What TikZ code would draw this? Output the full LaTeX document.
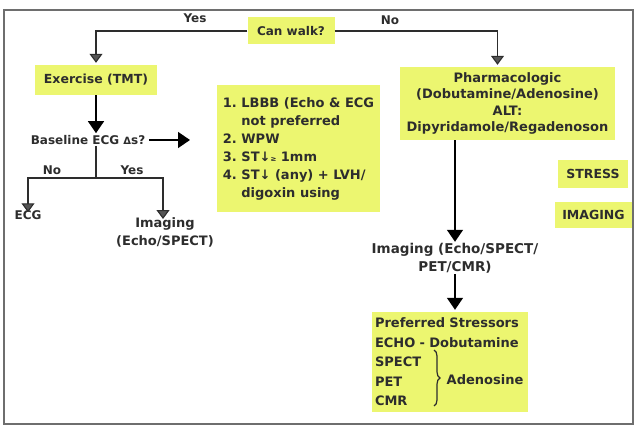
\documentclass[tikz,border=0pt]{standalone}
\usepackage{fontspec}
\setmainfont{DejaVu Sans}
\usetikzlibrary{arrows.meta,decorations.pathreplacing}
\definecolor{hilite}{RGB}{236,246,112}
\definecolor{ink}{RGB}{45,45,45}
\definecolor{frame}{RGB}{110,110,110}
\definecolor{tipgray}{RGB}{85,85,85}
\tikzset{
  txt/.style={text=ink, align=center, inner sep=1pt,
    font=\bfseries\fontsize{12.5}{17}\selectfont},
  box/.style={txt, fill=hilite, inner sep=3pt},
  branch/.style={draw=ink, line width=1.1pt,
    -{Triangle[width=13pt,length=9pt,fill=tipgray]}},
  down/.style={draw=black, line width=1.5pt,
    -{Triangle[width=16pt,length=12pt]}},
  plainline/.style={draw=ink, line width=1.1pt},
}
\begin{document}
\begin{tikzpicture}[x=1pt,y=-1pt]
  \useasboundingbox (0,0) rectangle (636,427);
  % outer frame
  \draw[frame, line width=1.2pt] (4,10) rectangle (633,424);

  % top decision
  \node[box, minimum width=87pt, minimum height=27pt,
        font=\bfseries\fontsize{12}{15}\selectfont] (walk) at (291,31) {Can walk?};
  \node[txt, font=\bfseries\fontsize{12}{15}\selectfont] (yes) at (195,18) {Yes};
  \node[txt, font=\bfseries\fontsize{12}{15}\selectfont] (no) at (390,20) {No};

  % exercise branch
  \node[box, minimum width=122pt, minimum height=30pt] (exercise) at (96,80) {Exercise (TMT)};
  \node[txt, font=\bfseries\fontsize{12}{15}\selectfont] (baseline) at (88,140) {Baseline ECG {\fontsize{10}{10}\selectfont Δ}s?};
  \coordinate (listarrow) at (190,140);
  \coordinate (split) at (96,178);
  \node[txt, font=\bfseries\fontsize{12}{15}\selectfont] (lno) at (52,170) {No};
  \node[txt, font=\bfseries\fontsize{12}{15}\selectfont] (lyes) at (132,170) {Yes};
  \node[txt, font=\bfseries\fontsize{12}{15}\selectfont] (ecg) at (28,215) {ECG};
  \node[txt, font=\bfseries\fontsize{13}{18}\selectfont] (imgA) at (165,232) {Imaging\\(Echo/SPECT)};

  % indications list
  \node[box, minimum width=163pt, minimum height=127pt, align=left,
        font=\bfseries\fontsize{13}{18}\selectfont] (list) at (298.5,148.5)
    {1.\ LBBB (Echo \& ECG\\
     \phantom{1.\ }not preferred\\
     2.\ WPW\\
     3.\ ST↓{\fontsize{7}{7}\selectfont ≥} 1mm\\
     4.\ ST↓ (any) + LVH/\\
     \phantom{1.\ }digoxin using};

  % pharmacologic branch
  \node[box, minimum width=215pt, minimum height=73pt,
        font=\bfseries\fontsize{13}{16.5}\selectfont] (pharm) at (507.5,103.5)
    {Pharmacologic\\(Dobutamine/Adenosine)\\ALT:\\Dipyridamole/Regadenoson};
  \node[txt, font=\bfseries\fontsize{13.5}{18}\selectfont] (imgB) at (455,258) {Imaging (Echo/SPECT/\\PET/CMR)};
  \node[box, minimum width=156pt, minimum height=100pt, align=left,
        font=\bfseries\fontsize{13}{19.5}\selectfont, text width=150pt] (pref) at (450,362)
    {Preferred Stressors\\ECHO - Dobutamine\\SPECT\\PET\\CMR};
  \coordinate (bracetop) at (434,350);
  \coordinate (bracebot) at (434,406);
  \node[txt, font=\bfseries\fontsize{13}{18}\selectfont] (adeno) at (485,380) {Adenosine};

  % side tags
  \node[box, minimum width=70pt, minimum height=28pt] (stress) at (593,174) {STRESS};
  \node[box, minimum width=77pt, minimum height=26pt] (imaging) at (593.5,215) {IMAGING};

  % connectors
  \draw[branch, shorten >=2pt] (walk.west) -| (exercise.north);
  \draw[branch, shorten >=2pt] (walk.east) -| ([xshift=-10pt]pharm.north);
  \draw[down, shorten >=1pt] (exercise.south) -- (exercise.south |- baseline.north);
  \draw[down, shorten <=3pt] (baseline.east) -- (listarrow);
  \draw[plainline] (baseline.south -| split) -- (split);
  \draw[branch] (split) -| ([yshift=-3pt]ecg.north);
  \draw[branch] (split) -| ([xshift=-2pt,yshift=-3pt]imgA.north);
  \draw[down] (pharm.south -| imgB) -- (imgB.north);
  \draw[down, shorten >=2pt] (imgB.south) -- (imgB.south |- pref.north);
  \draw[ink, line width=1.2pt, decorate, decoration={brace, amplitude=6pt}]
    (bracetop) -- (bracebot);
\end{tikzpicture}
\end{document}
